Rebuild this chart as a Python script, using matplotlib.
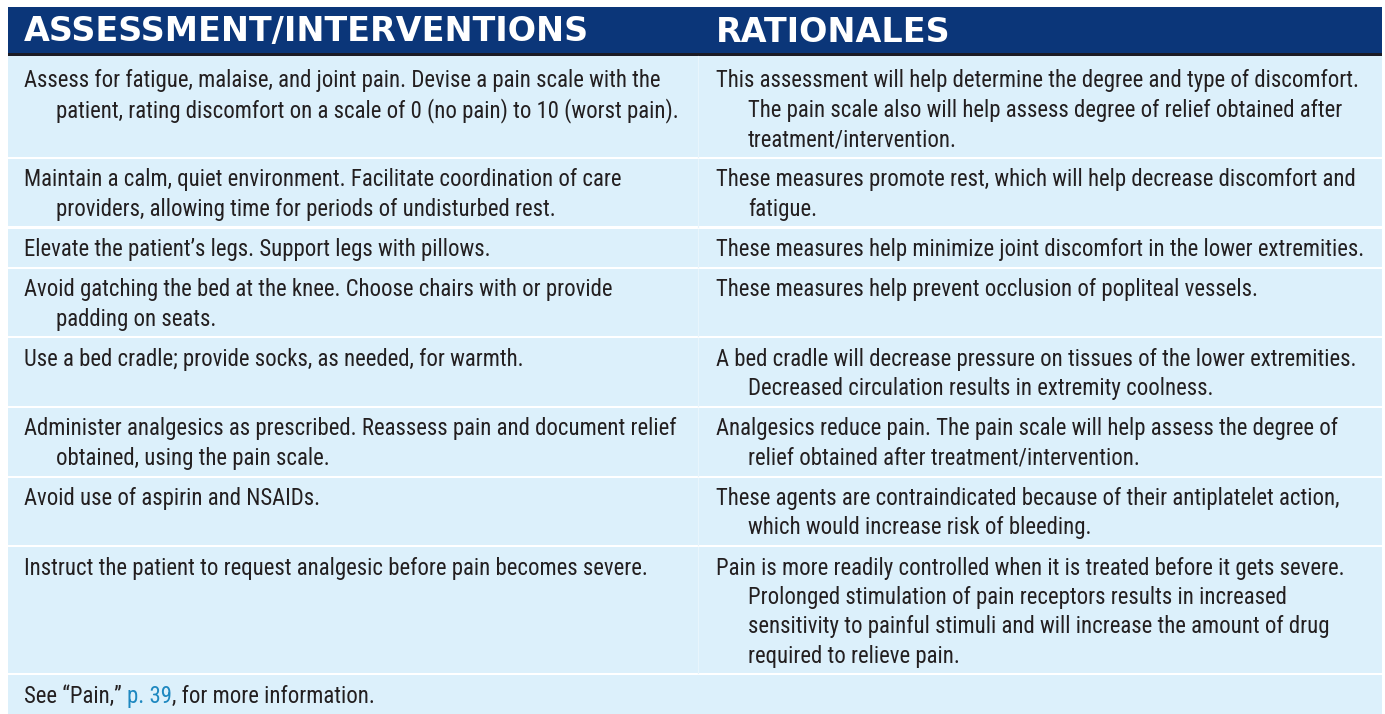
import matplotlib
matplotlib.use("Agg")
import matplotlib.pyplot as plt
from matplotlib import font_manager

# table content (one string per printed line)
headers = ["ASSESSMENT/INTERVENTIONS", "RATIONALES"]

interventions = [
    ["Assess for fatigue, malaise, and joint pain. Devise a pain scale with the",
     "patient, rating discomfort on a scale of 0 (no pain) to 10 (worst pain)."],
    ["Maintain a calm, quiet environment. Facilitate coordination of care",
     "providers, allowing time for periods of undisturbed rest."],
    ["Elevate the patient\u2019s legs. Support legs with pillows."],
    ["Avoid gatching the bed at the knee. Choose chairs with or provide",
     "padding on seats."],
    ["Use a bed cradle; provide socks, as needed, for warmth."],
    ["Administer analgesics as prescribed. Reassess pain and document relief",
     "obtained, using the pain scale."],
    ["Avoid use of aspirin and NSAIDs."],
    ["Instruct the patient to request analgesic before pain becomes severe."],
]

rationales = [
    ["This assessment will help determine the degree and type of discomfort.",
     "The pain scale also will help assess degree of relief obtained after",
     "treatment/intervention."],
    ["These measures promote rest, which will help decrease discomfort and",
     "fatigue."],
    ["These measures help minimize joint discomfort in the lower extremities."],
    ["These measures help prevent occlusion of popliteal vessels."],
    ["A bed cradle will decrease pressure on tissues of the lower extremities.",
     "Decreased circulation results in extremity coolness."],
    ["Analgesics reduce pain. The pain scale will help assess the degree of",
     "relief obtained after treatment/intervention."],
    ["These agents are contraindicated because of their antiplatelet action,",
     "which would increase risk of bleeding."],
    ["Pain is more readily controlled when it is treated before it gets severe.",
     "Prolonged stimulation of pain receptors results in increased",
     "sensitivity to painful stimuli and will increase the amount of drug",
     "required to relieve pain."],
]

footer_parts = ["See \u201cPain,\u201d ", "p. 39", ", for more information."]

NAVY = "#0b3679"
LIGHT = "#dcf0fb"
INK = "#231f20"
LINK = "#1e88c0"


def pick_font(names):
    for n in names:
        try:
            font_manager.findfont(n, fallback_to_default=False)
            return n
        except Exception:
            pass
    return "DejaVu Sans"


body_font = pick_font(["Liberation Sans Narrow", "Roboto Condensed", "Roboto"])
head_font = "DejaVu Sans"

W, H = 1385, 714
fig = plt.figure(figsize=(W / 100, H / 100), dpi=100)
ax = fig.add_axes([0, 0, 1, 1])
ax.set_xlim(0, W)
ax.set_ylim(H, 0)
ax.axis("off")

left, right = 8, 1382
col2 = 698
pad = 16
indent = 32
line_h = 29.3
body_size = 16.4

# header band
ax.add_patch(plt.Rectangle((left, 7), right - left, 46, color=NAVY, lw=0))
ax.add_patch(plt.Rectangle((left, 53), right - left, 3, color="#1b1b25", lw=0))
for x, h in zip([24, 716], headers):
    ax.text(x, 32, h, color="white", fontsize=24, fontweight="bold",
            family=head_font, va="center", ha="left")

top = 56
for i, (a, b) in enumerate(zip(interventions, rationales)):
    n = max(len(a), len(b))
    extra = 4 if i == 0 else 0
    height = 29.3 * n + 11 + extra
    ax.add_patch(plt.Rectangle((left, top), right - left, height - 2, color=LIGHT, lw=0))
    ax.plot([col2, col2], [top, top + height - 2], color="#e8f5fc", lw=0.8)
    for x0, lines in [(left + pad, a), (col2 + 18, b)]:
        for k, s in enumerate(lines):
            ax.text(x0 + (indent if k else 0), top + 21 + extra + k * line_h, s,
                    color=INK, fontsize=body_size, family=body_font,
                    va="center", ha="left")
    top += height

# footer row
ax.add_patch(plt.Rectangle((left, top), right - left, H - top, color=LIGHT, lw=0))
fig.canvas.draw()
renderer = fig.canvas.get_renderer()
x = left + pad
for s, c in zip(footer_parts, [INK, LINK, INK]):
    t = ax.text(x, top + 21, s, color=c, fontsize=body_size, family=body_font,
                va="center", ha="left")
    bb = t.get_window_extent(renderer)
    x += bb.width

fig.savefig("out.png", dpi=100, facecolor="white")
